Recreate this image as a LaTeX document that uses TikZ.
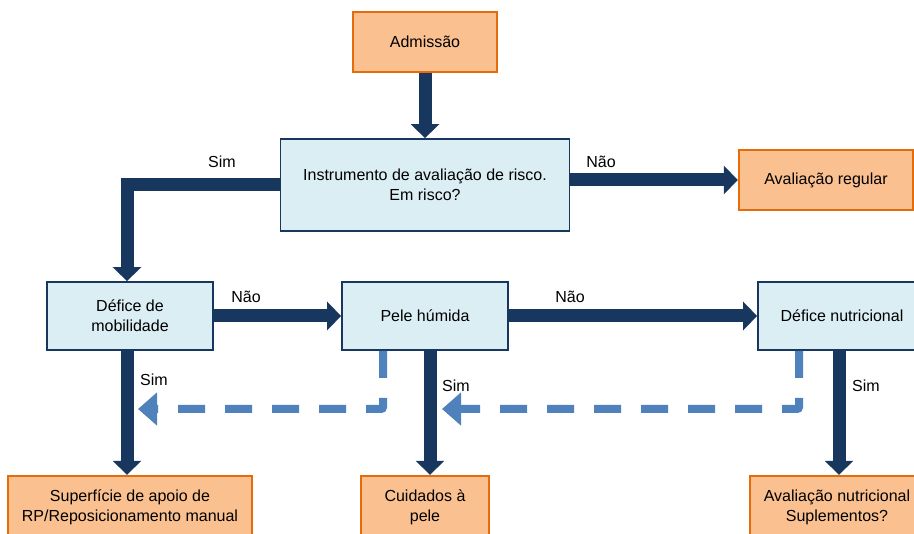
\documentclass[tikz,border=0pt]{standalone}
\usepackage{fontspec}
\setmainfont{Liberation Sans}
\usetikzlibrary{arrows.meta}

\definecolor{navy}{HTML}{17375E}
\definecolor{skyfill}{HTML}{DBEEF4}
\definecolor{orfill}{HTML}{FAC090}
\definecolor{ordraw}{HTML}{E46C0A}
\definecolor{dashblue}{HTML}{4F81BD}

\begin{document}
\begin{tikzpicture}[x=1pt,y=-1pt,font=\fontsize{16}{20}\selectfont,
  act/.style={draw=ordraw,fill=orfill,line width=2.4pt,align=center,minimum height=60pt},
  test/.style={draw=navy,fill=skyfill,line width=1.8pt,align=center,minimum height=68pt},
  flow/.style={color=navy,line width=13pt,-{Triangle[width=28pt,length=14pt]}},
  back/.style={draw=dashblue,line width=8pt,dash pattern=on 27pt off 20pt,rounded corners=2pt,
    -{Triangle[width=32pt,length=19pt]}},
  lbl/.style={inner sep=1pt}]
\path[use as bounding box,clip] (0,0) rectangle (914,534);

% boxes
\node[act,minimum width=144pt] (adm) at (425,42) {Admissão};
\node[test,minimum width=289pt,minimum height=92pt] (risk) at (425,185) {Instrumento de avaliação de risco.\\Em risco?};
\node[act,minimum width=174pt] (reg) at (826,180) {Avaliação regular};
\node[test,minimum width=166pt] (mob) at (130,316) {Défice de\\mobilidade};
\node[test,minimum width=166pt] (pele) at (425,316) {Pele húmida};
\node[test,minimum width=168pt] (nut) at (842,316) {Défice nutricional};
\node[act,minimum width=244pt,minimum height=62pt] (sup) at (130,507) {Superfície de apoio de\\RP/Reposicionamento manual};
\node[act,minimum width=128pt,minimum height=62pt] (cui) at (425,507) {Cuidados à\\pele};
\node[act,minimum width=174pt,minimum height=62pt] (aval) at (837,507) {Avaliação nutricional\\Suplementos?};

% main flow
\path[flow]
(adm) edge (risk)
(mob) edge (pele)
(pele) edge (nut)
([xshift=-3pt]mob.south) edge ([xshift=-3pt]sup.north)
([xshift=5pt]pele.south) edge ([xshift=5pt]cui.north)
([xshift=-3pt]nut.south) edge ([xshift=2pt]aval.north)
;
\draw[flow] (risk.east |- reg.west) -- (reg.west);
\draw[flow] (risk.west) -| ([xshift=-3pt]mob.north);

% way back
\coordinate (mobback) at (138,409);
\coordinate (peleback) at (442,409);
\draw[back] ([xshift=-42pt]pele.south) |- (mobback);
\draw[back] ([xshift=-43pt]nut.south) |- (peleback);

% answers
\node[lbl] (simrisk) at (222,162) {Sim};
\node[lbl] (naorisk) at (601,162) {Não};
\node[lbl] (naomob) at (246,297) {Não};
\node[lbl] (naopele) at (570,297) {Não};
\node[lbl] (simmob) at (154,380) {Sim};
\node[lbl] (simpele) at (456,386) {Sim};
\node[lbl] (simnut) at (866,386) {Sim};
\end{tikzpicture}
\end{document}
